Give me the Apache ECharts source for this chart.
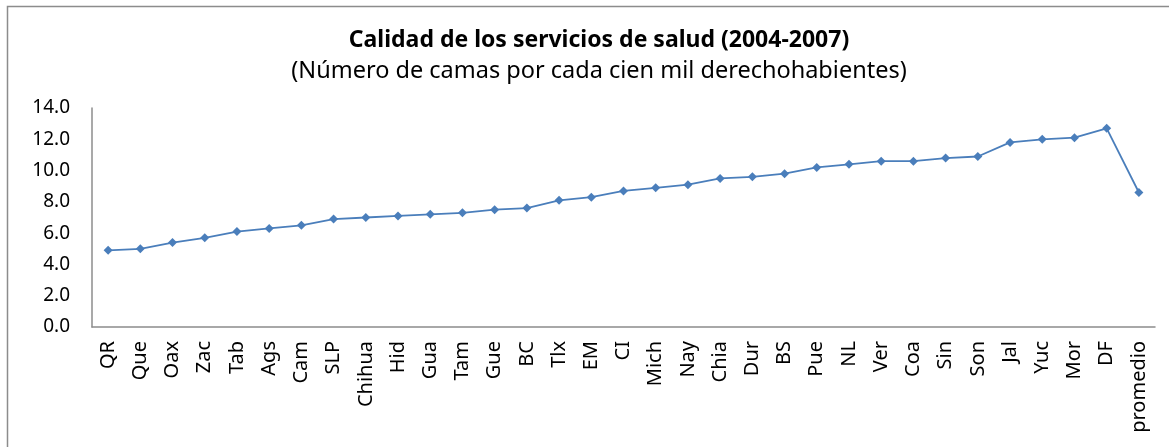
<!DOCTYPE html>
<html>
<head>
<meta charset="utf-8">
<script src="https://cdn.jsdelivr.net/npm/echarts@6/dist/echarts.min.js"></script>
<style>
  html, body { margin: 0; padding: 0; background: #fff; }
  #chart { width: 1169px; height: 447px; }
</style>
</head>
<body>
<div id="chart"></div>
<script>
const estados = [
  "QR", "Que", "Oax", "Zac", "Tab", "Ags", "Cam", "SLP", "Chihua", "Hid", "Gua",
  "Tam", "Gue", "BC", "Tlx", "EM", "CI", "Mich", "Nay", "Chia", "Dur", "BS",
  "Pue", "NL", "Ver", "Coa", "Sin", "Son", "Jal", "Yuc", "Mor", "DF", "promedio",
];
const camas = [
  4.9, 5.0, 5.4, 5.7, 6.1, 6.3, 6.5, 6.9, 7.0, 7.1, 7.2,
  7.3, 7.5, 7.6, 8.1, 8.3, 8.7, 8.9, 9.1, 9.5, 9.6, 9.8,
  10.2, 10.4, 10.6, 10.6, 10.8, 10.9, 11.8, 12.0, 12.1, 12.7, 8.6,
];
const yTicks = [0, 2, 4, 6, 8, 10, 12, 14];

const FONT = "'Noto Sans', sans-serif";
const LINE_COLOR = "#4a7ebb";
const AXIS_COLOR = "#8c8c8c";

const chart = echarts.init(document.getElementById("chart"));

chart.setOption({
  animation: false,
  textStyle: { fontFamily: FONT },
  title: [
    {
      text: "Calidad de los servicios de salud (2004-2007)",
      left: 594,
      textAlign: "center",
      top: 24,
      textStyle: { fontFamily: FONT, fontSize: 23, fontWeight: "bold", color: "#000" },
    },
    {
      text: "(Número de camas por cada cien mil derechohabientes)",
      left: 594,
      textAlign: "center",
      top: 54,
      textStyle: { fontFamily: FONT, fontSize: 23.5, fontWeight: "normal", color: "#000" },
    },
  ],
  graphic: [
    {
      type: "rect",
      shape: { x: 7.5, y: 6.5, width: 1200, height: 500 },
      style: { fill: "none", stroke: AXIS_COLOR, lineWidth: 1.5 },
      silent: true,
    },
  ],
  grid: { left: 92, right: 14, top: 108, bottom: 120 },
  xAxis: {
    type: "category",
    data: estados,
    boundaryGap: true,
    axisLine: { show: true, lineStyle: { color: AXIS_COLOR, width: 1.5 } },
    axisTick: { show: false },
    axisLabel: {
      interval: 0,
      rotate: 90,
      margin: 14,
      fontSize: 20,
      color: "#000",
      fontFamily: FONT,
    },
  },
  yAxis: {
    type: "value",
    min: yTicks[0],
    max: yTicks[yTicks.length - 1],
    interval: 2,
    axisLine: { show: true, lineStyle: { color: AXIS_COLOR, width: 1.5 } },
    axisTick: { show: false },
    splitLine: { show: false },
    axisLabel: {
      margin: 22,
      fontSize: 19,
      color: "#000",
      fontFamily: FONT,
      formatter: (v) => v.toFixed(1),
    },
  },
  series: [
    {
      type: "line",
      data: camas,
      symbol: "diamond",
      symbolSize: 9,
      itemStyle: { color: LINE_COLOR },
      lineStyle: { color: LINE_COLOR, width: 1.8 },
    },
  ],
});
</script>
</body>
</html>
